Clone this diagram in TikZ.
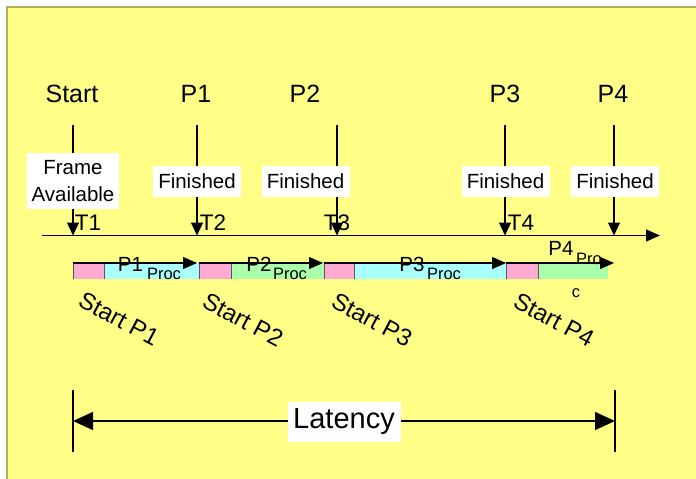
\documentclass[tikz,border=0pt]{standalone}
\usepackage{fontspec}
\setmainfont{Liberation Sans}
\usetikzlibrary{arrows.meta}
\definecolor{bgyellow}{HTML}{FFFF88}
\definecolor{frameline}{HTML}{B5AE5C}
\definecolor{pinkbar}{HTML}{FFAAD0}
\definecolor{cyanbar}{HTML}{AAFFFF}
\definecolor{greenbar}{HTML}{AAFFAA}
\definecolor{sepgray}{HTML}{555555}
\tikzset{
  toplabel/.style={anchor=base, inner sep=0pt, font=\fontsize{25}{30}\selectfont},
  tlabel/.style={anchor=base, inner sep=0pt, font=\fontsize{22.5}{26}\selectfont},
  finbox/.style={fill=white, minimum width=88pt, minimum height=31pt, inner sep=0pt, font=\fontsize{20.5}{24}\selectfont},
  framebox/.style={fill=white, minimum width=92pt, minimum height=56pt, inner sep=0pt, align=center, font=\fontsize{20.5}{27}\selectfont},
  varrow/.style={line width=1.2pt, -{Triangle[length=13pt,width=12pt]}},
  tarrow/.style={line width=1.2pt, -{Triangle[length=14pt,width=12pt]}},
  barrow/.style={line width=1.2pt, -{Triangle[length=14pt,width=12pt]}},
  cyanseg/.style={fill=cyanbar},
  greenseg/.style={fill=greenbar},
  sepline/.style={draw=sepgray, line width=0.8pt},
  plabel/.style={anchor=base, inner sep=0pt, font=\fontsize{20.5}{24}\selectfont},
  sublabel/.style={anchor=base, inner sep=0pt, font=\fontsize{16.5}{19}\selectfont},
  startlabel/.style={rotate=-28, inner sep=0pt, font=\fontsize{24}{28}\selectfont},
  latarrow/.style={line width=1.2pt, {Triangle[length=20pt,width=18pt]}-{Triangle[length=20pt,width=18pt]}},
  latbox/.style={fill=white, minimum width=113pt, minimum height=40pt, inner sep=0pt, font=\fontsize{29}{34}\selectfont},
  endtick/.style={line width=1.2pt}
}
\begin{document}
\begin{tikzpicture}[x=1pt,y=-1pt]
\useasboundingbox (0,0) rectangle (696,479);
% background
\fill[white] (0,0) rectangle (696,479);
\fill[bgyellow] (7,7) rectangle (696,479);
\draw[frameline, line width=1.5pt] (7,479) -- (7,7) -- (696,7);

% top labels
\node[toplabel] (lStart) at (72,102) {Start};
\node[toplabel] (lP1) at (196,102) {P1};
\node[toplabel] (lP2) at (305,102) {P2};
\node[toplabel] (lP3) at (505,102) {P3};
\node[toplabel] (lP4) at (613,102) {P4};

% vertical event lines
\coordinate (v0s) at (73,125);  \coordinate (v0e) at (73,235.5);
\coordinate (v1s) at (197,125); \coordinate (v1e) at (197,235.5);
\coordinate (v2s) at (337,125); \coordinate (v2e) at (337,235.5);
\coordinate (v3s) at (505,125); \coordinate (v3e) at (505,235.5);
\coordinate (v4s) at (614,125); \coordinate (v4e) at (614,235.5);
\draw[varrow] (v0s) -- (v0e);
\draw[varrow] (v1s) -- (v1e);
\draw[varrow] (v2s) -- (v2e);
\draw[varrow] (v3s) -- (v3e);
\draw[varrow] (v4s) -- (v4e);

% label boxes
\node[framebox] (fa) at (73,181) {Frame\\Available};
\node[finbox] (f1) at (197,181.5) {Finished};
\node[finbox] (f2) at (305.5,181.5) {Finished};
\node[finbox] (f3) at (505.5,181.5) {Finished};
\node[finbox] (f4) at (615,181.5) {Finished};

% timeline
\coordinate (tl0) at (42,235.5);
\coordinate (tl1) at (660,235.5);
\draw[tarrow] (tl0) -- (tl1);

% T labels
\node[tlabel] (T1) at (88,230) {T1};
\node[tlabel] (T2) at (213,230) {T2};
\node[tlabel] (T3) at (337,230) {T3};
\node[tlabel] (T4) at (521,230) {T4};

% bars
\fill[cyanseg] (104,263) rectangle (199,279);
\fill[greenseg] (231,263) rectangle (324,279);
\fill[cyanseg] (354,263) rectangle (506,279);
\fill[greenseg] (538,263) rectangle (608,279);
\fill[pinkbar] (73,263) rectangle (104,279);
\fill[pinkbar] (199,263) rectangle (231,279);
\fill[pinkbar] (324,263) rectangle (354,279);
\fill[pinkbar] (506,263) rectangle (538,279);
\draw[sepline] (73,263) -- (73,279) (104,263) -- (104,279);
\draw[sepline] (199,263) -- (199,279) (231,263) -- (231,279);
\draw[sepline] (324,263) -- (324,279) (354,263) -- (354,279);
\draw[sepline] (506,263) -- (506,279) (538,263) -- (538,279);

% bar arrows
\coordinate (b1s) at (73,263);  \coordinate (b1e) at (197,263);
\coordinate (b2s) at (199,263); \coordinate (b2e) at (323,263);
\coordinate (b3s) at (324,263); \coordinate (b3e) at (506,263);
\coordinate (b4s) at (506,263); \coordinate (b4e) at (614,263);
\draw[barrow] (b1s) -- (b1e);
\draw[barrow] (b2s) -- (b2e);
\draw[barrow] (b3s) -- (b3e);
\draw[barrow] (b4s) -- (b4e);

% bar labels
\node[plabel] (p1) at (130.5,271) {P1};
\node[sublabel] (p1s) at (164,279) {Proc};
\node[plabel] (p2) at (259,271) {P2};
\node[sublabel] (p2s) at (290,279) {Proc};
\node[plabel] (p3) at (412,271) {P3};
\node[sublabel] (p3s) at (444,279) {Proc};
\node[plabel] (p4) at (561,255) {P4};
\node[sublabel] (p4s) at (589,264) {Pro};
\node[sublabel] (p4c) at (576,297) {c};

% start labels
\node[startlabel] (sp1) at (119,319) {Start P1};
\node[startlabel] (sp2) at (243,320) {Start P2};
\node[startlabel] (sp3) at (372,320) {Start P3};
\node[startlabel] (sp4) at (554,320) {Start P4};

% latency
\coordinate (lt0s) at (73,390); \coordinate (lt0e) at (73,452);
\coordinate (lt1s) at (615,390); \coordinate (lt1e) at (615,452);
\draw[endtick] (lt0s) -- (lt0e);
\draw[endtick] (lt1s) -- (lt1e);
\coordinate (la) at (73,421);
\coordinate (lb) at (615,421);
\draw[latarrow] (la) -- (lb);
\node[latbox] (lat) at (344,422) {Latency};
\end{tikzpicture}
\end{document}
